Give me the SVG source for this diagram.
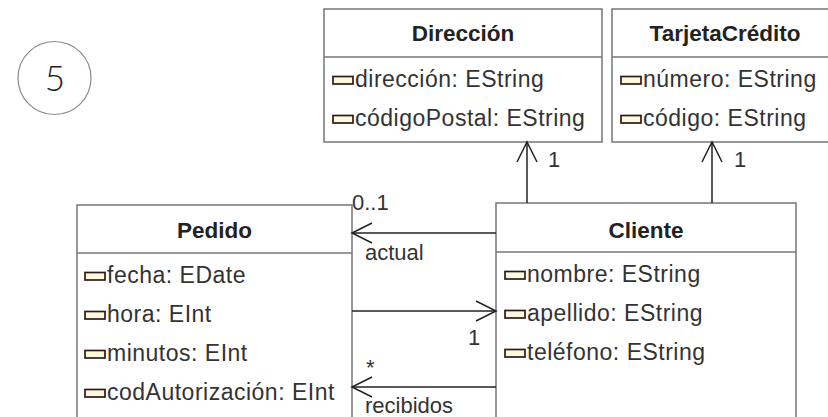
<svg xmlns="http://www.w3.org/2000/svg" width="828" height="417" viewBox="0 0 828 417">
<style>
.box{fill:#fff;stroke:#767676;stroke-width:1.5}
.sep{stroke:#767676;stroke-width:1.5}
.title{font-family:"Liberation Sans",Arial,sans-serif;font-weight:bold;font-size:22.5px;fill:#222;text-anchor:middle}
.attr{font-family:"Liberation Sans",Arial,sans-serif;font-size:23px;letter-spacing:0.5px;fill:#333}
.ico{fill:#fcf9dc;stroke:#2e1a1a;stroke-width:1.7}
.lbl{font-family:"Liberation Sans",Arial,sans-serif;font-size:22px;fill:#333}
.edge{fill:none;stroke:#222;stroke-width:1.5}
</style>
<rect width="828" height="417" fill="#fff"/>
<g id="badge">
<circle cx="54.5" cy="78" r="36.5" fill="#fff" stroke="#8a8a8a" stroke-width="1.2"/>
<text x="55" y="91" font-family="Lato,'Open Sans',sans-serif" font-weight="300" font-size="35" fill="#222" text-anchor="middle">5</text>
</g>
<g id="Direccion">
<rect class="box" x="324" y="9" width="278" height="133"/>
<line class="sep" x1="324" y1="57" x2="602" y2="57"/>
<text class="title" x="463" y="41">Dirección</text>
<rect class="ico" x="333" y="76.5" width="20" height="7.5"/>
<text class="attr" x="355" y="87">dirección: EString</text>
<rect class="ico" x="333" y="115.5" width="20" height="7.5"/>
<text class="attr" x="355" y="126">códigoPostal: EString</text>
</g>
<g id="TarjetaCredito">
<rect class="box" x="612" y="9" width="226" height="133"/>
<line class="sep" x1="612" y1="57" x2="838" y2="57"/>
<text class="title" x="725" y="41">TarjetaCrédito</text>
<rect class="ico" x="621" y="76.5" width="20" height="7.5"/>
<text class="attr" x="643" y="87">número: EString</text>
<rect class="ico" x="621" y="115.5" width="20" height="7.5"/>
<text class="attr" x="643" y="126">código: EString</text>
</g>
<g id="Pedido">
<rect class="box" x="77" y="205" width="275" height="230"/>
<line class="sep" x1="77" y1="253" x2="352" y2="253"/>
<text class="title" x="214.5" y="238">Pedido</text>
<rect class="ico" x="85" y="272.5" width="20" height="7.5"/>
<text class="attr" x="107" y="283">fecha: EDate</text>
<rect class="ico" x="85" y="311.5" width="20" height="7.5"/>
<text class="attr" x="107" y="322">hora: EInt</text>
<rect class="ico" x="85" y="350.5" width="20" height="7.5"/>
<text class="attr" x="107" y="361">minutos: EInt</text>
<rect class="ico" x="85" y="389.5" width="20" height="7.5"/>
<text class="attr" x="107" y="400">codAutorización: EInt</text>
</g>
<g id="Cliente">
<rect class="box" x="496" y="203" width="300" height="232"/>
<line class="sep" x1="496" y1="252" x2="796" y2="252"/>
<text class="title" x="646" y="238">Cliente</text>
<rect class="ico" x="505" y="271.5" width="20" height="7.5"/>
<text class="attr" x="527" y="282">nombre: EString</text>
<rect class="ico" x="505" y="310.5" width="20" height="7.5"/>
<text class="attr" x="527" y="321">apellido: EString</text>
<rect class="ico" x="505" y="349.5" width="20" height="7.5"/>
<text class="attr" x="527" y="360">teléfono: EString</text>
</g>
<g id="connectors">
<line class="edge" x1="527" y1="203" x2="527" y2="142"/>
<polyline class="edge" points="517,162 527,142 537,162"/>
<text class="lbl" x="548" y="167">1</text>
<line class="edge" x1="712" y1="203" x2="712" y2="142"/>
<polyline class="edge" points="702,162 712,142 722,162"/>
<text class="lbl" x="734" y="167">1</text>
<line class="edge" x1="496" y1="233" x2="352" y2="233"/>
<polyline class="edge" points="372,223 352,233 372,243"/>
<text class="lbl" x="352" y="210">0..1</text>
<text class="lbl" x="365" y="260">actual</text>
<line class="edge" x1="352" y1="311" x2="496" y2="311"/>
<polyline class="edge" points="476,301 496,311 476,321"/>
<text class="lbl" x="468" y="345">1</text>
<line class="edge" x1="496" y1="387" x2="352" y2="387"/>
<polyline class="edge" points="372,377 352,387 372,397"/>
<text class="lbl" x="366" y="375">*</text>
<text class="lbl" x="365" y="413">recibidos</text>
</g>
</svg>
